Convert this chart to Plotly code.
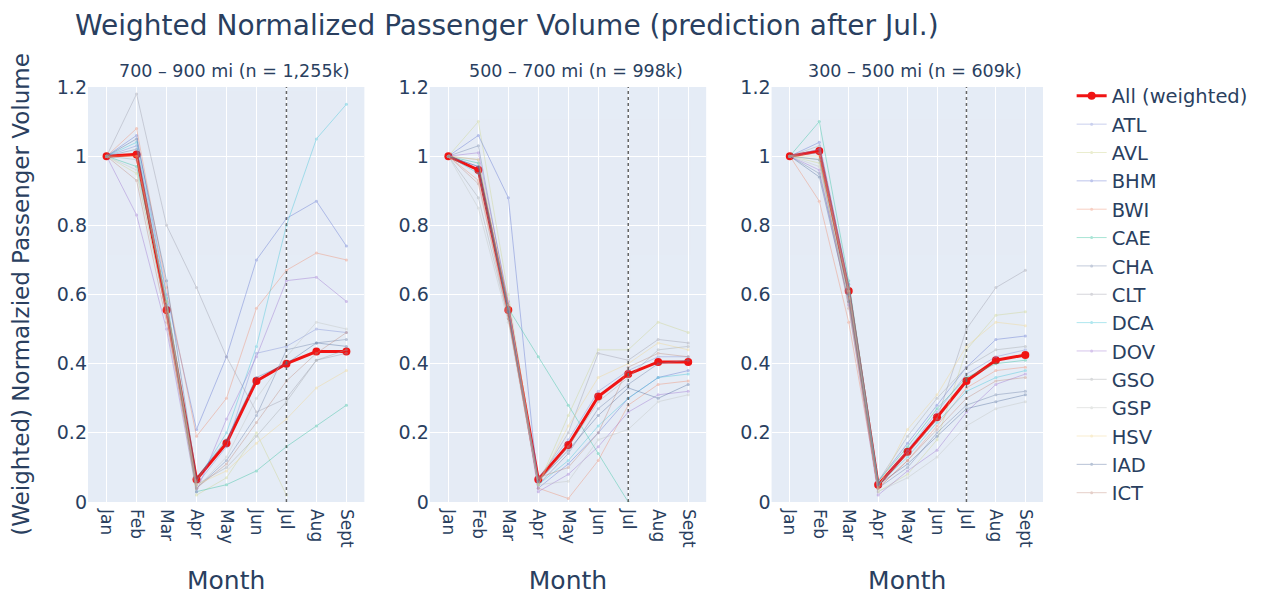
import plotly.graph_objects as go
from plotly.subplots import make_subplots

months = ['Jan', 'Feb', 'Mar', 'Apr', 'May', 'Jun', 'Jul', 'Aug', 'Sept']
airports = ['ATL', 'AVL', 'BHM', 'BWI', 'CAE', 'CHA', 'CLT', 'DCA', 'DOV', 'GSO', 'GSP', 'HSV', 'IAD', 'ICT']
panel_titles = ['700 – 900 mi (n = 1,255k)', '500 – 700 mi (n = 998k)', '300 – 500 mi (n = 609k)']

# weighted average per distance band
all_700_900 = [1.0, 1.005, 0.555, 0.065, 0.17, 0.35, 0.40, 0.435, 0.435]
all_500_700 = [1.0, 0.96, 0.555, 0.065, 0.165, 0.305, 0.37, 0.405, 0.405]
all_300_500 = [1.0, 1.015, 0.61, 0.05, 0.145, 0.245, 0.35, 0.41, 0.425]

# per airport, 700-900 mi
vol_700_900 = {
    'ATL': [1, 1.03, 0.57, 0.05, 0.16, 0.43, 0.45, 0.50, 0.49],
    'AVL': [1, 0.95, 0.55, 0.02, 0.07, 0.20, 0.02, None, None],
    'BHM': [1, 1.06, 0.60, 0.21, 0.42, 0.70, 0.82, 0.87, 0.74],
    'BWI': [1, 1.08, 0.62, 0.19, 0.30, 0.56, 0.67, 0.72, 0.70],
    'CAE': [1, 0.97, 0.58, 0.03, 0.05, 0.09, 0.16, 0.22, 0.28],
    'CHA': [1, 1.02, 0.56, 0.04, 0.12, 0.25, 0.44, 0.46, 0.47],
    'CLT': [1, 1.18, 0.80, 0.62, 0.42, 0.26, 0.30, 0.41, 0.43],
    'DCA': [1, 1.04, 0.59, 0.06, 0.20, 0.45, 0.80, 1.05, 1.15],
    'DOV': [1, 0.83, 0.50, 0.03, 0.24, 0.42, 0.64, 0.65, 0.58],
    'GSO': [1, 0.99, 0.57, 0.05, 0.10, 0.19, 0.29, 0.41, 0.44],
    'GSP': [1, 0.96, 0.54, 0.04, 0.13, 0.30, 0.42, 0.52, 0.50],
    'HSV': [1, 1.00, 0.58, 0.05, 0.09, 0.17, 0.24, 0.33, 0.38],
    'IAD': [1, 1.05, 0.64, 0.07, 0.18, 0.36, 0.40, 0.46, 0.45],
    'ICT': [1, 0.93, 0.52, 0.04, 0.11, 0.23, 0.35, 0.43, 0.49],
}

# per airport, 500-700 mi
vol_500_700 = {
    'ATL': [1, 0.97, 0.56, 0.07, 0.18, 0.32, 0.38, 0.42, 0.42],
    'AVL': [1, 1.10, 0.60, 0.05, 0.25, 0.44, 0.44, 0.52, 0.49],
    'BHM': [1, 1.06, 0.88, 0.04, 0.11, 0.20, 0.30, 0.36, 0.38],
    'BWI': [1, 0.93, 0.54, 0.04, 0.01, 0.12, 0.28, 0.34, 0.35],
    'CAE': [1, 0.98, 0.56, 0.42, 0.28, 0.14, 0.0, None, None],
    'CHA': [1, 1.03, 0.57, 0.05, 0.14, 0.27, 0.34, 0.40, 0.41],
    'CLT': [1, 0.99, 0.55, 0.06, 0.20, 0.43, 0.41, 0.47, 0.46],
    'DCA': [1, 0.95, 0.55, 0.05, 0.12, 0.22, 0.30, 0.36, 0.37],
    'DOV': [1, 1.01, 0.58, 0.03, 0.08, 0.16, 0.26, 0.31, 0.32],
    'GSO': [1, 0.88, 0.53, 0.06, 0.16, 0.29, 0.36, 0.44, 0.45],
    'GSP': [1, 0.85, 0.52, 0.05, 0.06, 0.18, 0.21, 0.29, 0.31],
    'HSV': [1, 0.99, 0.57, 0.05, 0.22, 0.36, 0.40, 0.46, 0.44],
    'IAD': [1, 0.97, 0.55, 0.06, 0.15, 0.25, 0.33, 0.30, 0.34],
    'ICT': [1, 0.92, 0.53, 0.07, 0.10, 0.20, 0.39, 0.43, 0.42],
}

# per airport, 300-500 mi
vol_300_500 = {
    'ATL': [1, 1.02, 0.61, 0.05, 0.15, 0.26, 0.37, 0.42, 0.44],
    'AVL': [1, 0.98, 0.58, 0.03, 0.08, 0.18, 0.44, 0.54, 0.55],
    'BHM': [1, 1.04, 0.63, 0.06, 0.17, 0.28, 0.39, 0.47, 0.48],
    'BWI': [1, 0.87, 0.52, 0.04, 0.12, 0.22, 0.33, 0.38, 0.39],
    'CAE': [1, 1.10, 0.64, 0.06, 0.16, 0.27, 0.36, 0.40, 0.41],
    'CHA': [1, 0.95, 0.60, 0.04, 0.10, 0.20, 0.28, 0.31, 0.32],
    'CLT': [1, 1.01, 0.62, 0.05, 0.14, 0.24, 0.50, 0.62, 0.67],
    'DCA': [1, 0.99, 0.60, 0.05, 0.13, 0.23, 0.32, 0.36, 0.38],
    'DOV': [1, 0.96, 0.57, 0.02, 0.09, 0.15, 0.26, 0.34, 0.37],
    'GSO': [1, 1.03, 0.62, 0.06, 0.19, 0.30, 0.39, 0.44, 0.45],
    'GSP': [1, 0.97, 0.59, 0.03, 0.07, 0.13, 0.22, 0.27, 0.29],
    'HSV': [1, 1.00, 0.61, 0.04, 0.21, 0.31, 0.45, 0.52, 0.51],
    'IAD': [1, 0.94, 0.58, 0.05, 0.11, 0.19, 0.27, 0.29, 0.31],
    'ICT': [1, 0.99, 0.56, 0.04, 0.12, 0.21, 0.30, 0.35, 0.36],
}

colors = ['#7c8bd6', '#cdd48a', '#5b6fd0', '#f08a6a', '#2bbf9a', '#6b7fa6', '#9a9aa8',
          '#3cc4d8', '#9a6fd0', '#a0a4a8', '#c0c4c0', '#f2d68a', '#4e6a9a', '#c08a7a']

panels = [(all_700_900, vol_700_900), (all_500_700, vol_500_700), (all_300_500, vol_300_500)]
domains = [[0.0, 0.2894], [0.3579, 0.6473], [0.7158, 1.0]]
FONT = 'DejaVu Sans'

fig = make_subplots(rows=1, cols=3)

for i, (w, per_airport) in enumerate(panels):
    col = i + 1
    fig.add_trace(go.Scatter(x=months, y=w, mode='lines+markers', name='All (weighted)',
                             legendgroup='all', showlegend=(i == 0),
                             line=dict(color='#f01414', width=3), marker=dict(size=8)),
                  row=1, col=col)
    for a, c in zip(airports, colors):
        fig.add_trace(go.Scatter(x=months, y=per_airport[a], mode='lines+markers', name=a,
                                 legendgroup=a, showlegend=(i == 0), opacity=0.4,
                                 line=dict(color=c, width=1), marker=dict(size=3)),
                      row=1, col=col)
    fig.add_vline(x=6, line=dict(color='#666', width=1.5, dash='dot'), row=1, col=col)
    fig.update_xaxes(domain=domains[i], row=1, col=col)
    fig.add_annotation(text=panel_titles[i], x=sum(domains[i]) / 2 + 0.008, y=1.01, xref='paper', yref='paper',
                       xanchor='center', yanchor='bottom', showarrow=False,
                       font=dict(size=17.5, color='#2a3f5f', family=FONT))

fig.update_xaxes(range=[-0.62, 8.6], tickangle=90, tickfont=dict(size=17), ticklabelstandoff=6,
                 title=dict(text='Month', font=dict(size=25), standoff=24), automargin=False)
fig.update_yaxes(range=[0, 1.2], dtick=0.2, tickfont=dict(size=19), zeroline=False, automargin=False)
fig.update_yaxes(title=dict(text='(Weighted) Normalzied Passenger Volume', font=dict(size=23), standoff=24),
                 row=1, col=1)

# page body adds an 8px offset, so the figure is 8px smaller than the window
fig.update_layout(
    width=1257, height=588,
    template='plotly',
    font=dict(family=FONT, color='#2a3f5f'),
    title=dict(text='Weighted Normalized Passenger Volume (prediction after Jul.)',
               x=67 / 1257, xanchor='left', y=1 - 17 / 588, yanchor='middle',
               font=dict(size=28)),
    margin=dict(l=80, r=213, t=79, b=94),
    legend=dict(x=1.03, y=1.025, xanchor='left', yanchor='top', font=dict(size=19.5),
                tracegroupgap=0, maxheight=560),
    paper_bgcolor='white',
)

fig.write_html("out.html")
